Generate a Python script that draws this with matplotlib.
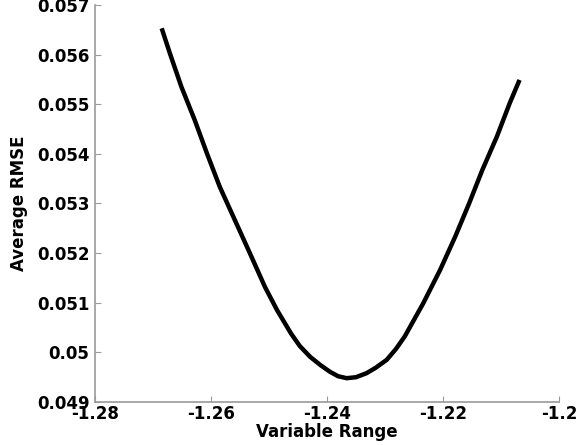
import matplotlib

matplotlib.use("Agg")
import matplotlib.pyplot as plt

# curve
var_range = [-1.2685, -1.2671, -1.2651, -1.2628, -1.2607, -1.2585, -1.2559,
             -1.2533, -1.2507, -1.2486, -1.2462, -1.2447, -1.2429, -1.2412,
             -1.2395, -1.2381, -1.2366, -1.2350, -1.2332, -1.2316, -1.2297,
             -1.2281, -1.2266, -1.2234, -1.2205, -1.2179, -1.2155, -1.2132,
             -1.2107, -1.2085, -1.2068]
avg_rmse = [0.05653, 0.05603, 0.05535, 0.05468, 0.05401, 0.05334, 0.05267,
            0.05200, 0.05132, 0.05085, 0.05038, 0.05013, 0.04991, 0.04975,
            0.04961, 0.04952, 0.04948, 0.04950, 0.04958, 0.04969, 0.04985,
            0.05007, 0.05032, 0.05099, 0.05166, 0.05233, 0.05300, 0.05368,
            0.05435, 0.05502, 0.05549]

x_ticks = [-1.28, -1.26, -1.24, -1.22, -1.2]
x_labels = ["-1.28", "-1.26", "-1.24", "-1.22", "-1.2"]
y_ticks = [0.049, 0.05, 0.051, 0.052, 0.053, 0.054, 0.055, 0.056, 0.057]
y_labels = ["0.049", "0.05", "0.051", "0.052", "0.053", "0.054", "0.055",
            "0.056", "0.057"]

plt.rcParams["font.family"] = ["DejaVu Sans"]
plt.rcParams["font.weight"] = "bold"

fig = plt.figure(figsize=(5.81, 4.45), dpi=100)
ax = fig.add_axes([0.1635, 0.0966, 0.7986, 0.8922])

ax.plot(var_range, avg_rmse, color="black", lw=3.2, solid_capstyle="butt",
        solid_joinstyle="round")

ax.set_xlim(-1.28, -1.2)
ax.set_ylim(0.049, 0.057)
ax.set_xticks(x_ticks)
ax.set_xticklabels(x_labels)
ax.set_yticks(y_ticks)
ax.set_yticklabels(y_labels)

for side in ("top", "right"):
    ax.spines[side].set_visible(False)
for side in ("left", "bottom"):
    ax.spines[side].set_color("#9a9a9a")
    ax.spines[side].set_linewidth(1.2)

ax.tick_params(direction="in", length=4, width=0.8, color="#9a9a9a",
               labelsize=12, labelcolor="black")
ax.tick_params(axis="x", pad=2)
ax.tick_params(axis="y", pad=4)
for lab in ax.get_xticklabels() + ax.get_yticklabels():
    lab.set_fontweight("bold")

ax.set_xlabel("Variable Range", fontsize=12, fontweight="bold", labelpad=0)
ax.set_ylabel("Average RMSE", fontsize=12, fontweight="bold", labelpad=6)

fig.savefig("out.png", dpi=100)
